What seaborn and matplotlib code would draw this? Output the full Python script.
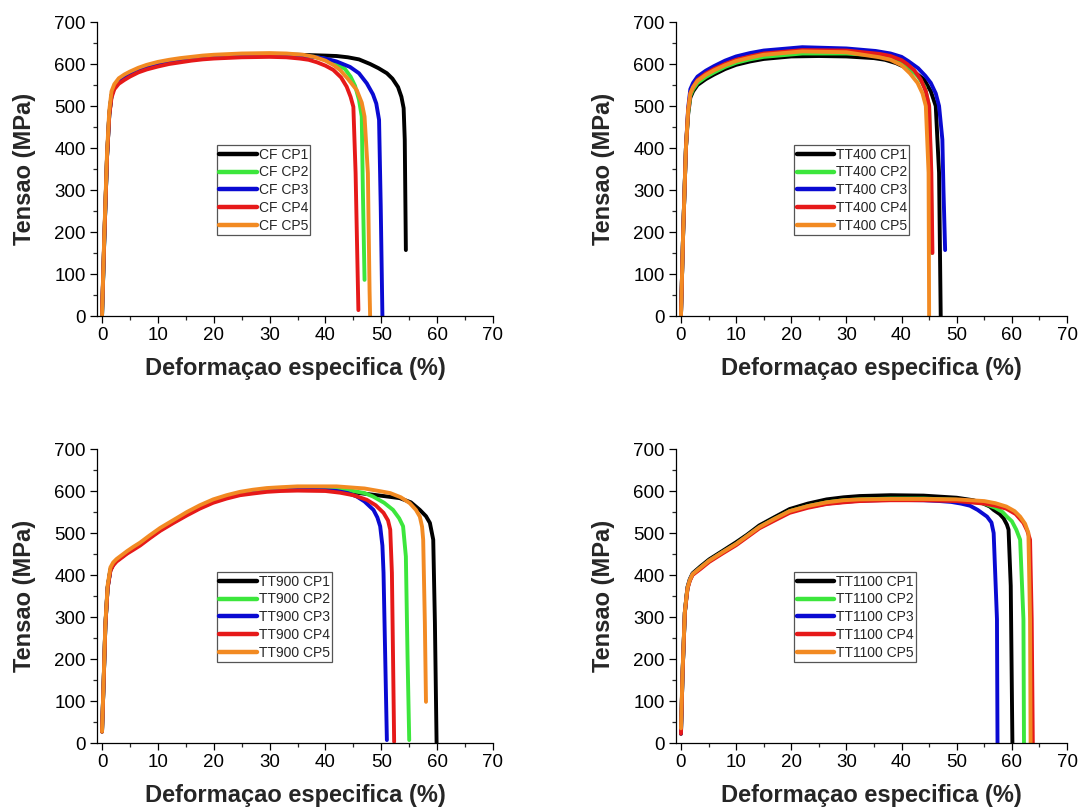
import numpy as np
import pandas as pd
import matplotlib
matplotlib.use("Agg")
import matplotlib.pyplot as plt
from matplotlib.ticker import MultipleLocator
import seaborn as sns

# Curvas tensao x deformacao

# CF
cf_cp1_x = [0, 0.4, 0.9, 1.3, 1.7, 2.2, 3, 4, 5, 6.5, 8, 10, 12, 14, 16, 18, 20, 25, 30, 35, 40, 42, 44, 46, 48, 49.5, 51, 52, 53, 53.6, 54.0, 54.2, 54.4]
cf_cp1_y = [0, 180, 380, 480, 525, 545, 558, 567, 575, 585, 592, 599, 605, 609, 613, 616, 618, 621, 622, 622, 620, 619, 616, 611, 600, 590, 578, 565, 545, 522, 495, 420, 157]
cf_cp2_x = [0, 0.4, 0.9, 1.3, 1.7, 2.2, 3, 4, 5, 6.5, 8, 10, 12, 14, 16, 18, 20, 25, 30, 35, 38, 40, 42, 43.5, 44.5, 45.3, 46.0, 46.5, 46.7, 47.0]
cf_cp2_y = [0, 180, 380, 480, 525, 545, 558, 567, 575, 585, 592, 599, 604, 608, 612, 615, 617, 620, 621, 620, 617, 612, 600, 588, 570, 548, 515, 475, 300, 86]
cf_cp3_x = [0, 0.4, 0.9, 1.3, 1.7, 2.2, 3, 4, 5, 6.5, 8, 10, 12, 14, 16, 18, 20, 25, 30, 35, 38, 40, 42, 44.4, 46, 47.4, 48.5, 49.1, 49.6, 49.9, 50.2]
cf_cp3_y = [0, 180, 380, 480, 525, 545, 557, 566, 574, 584, 591, 598, 604, 608, 612, 615, 617, 620, 621, 620, 617, 613, 606, 593, 578, 554, 528, 506, 467, 260, 0]
cf_cp4_x = [0, 0.4, 0.9, 1.3, 1.7, 2.2, 3, 4, 5, 6.5, 8, 10, 12, 14, 16, 18, 20, 25, 30, 33, 35.4, 37, 38.5, 40, 41.4, 42.8, 43.8, 44.5, 45.0, 45.4, 45.9]
cf_cp4_y = [10, 185, 380, 478, 520, 540, 553, 562, 570, 580, 587, 594, 600, 604, 608, 611, 613, 616, 617, 616, 613, 610, 604, 596, 586, 568, 546, 522, 498, 340, 14]
cf_cp5_x = [0, 0.4, 0.9, 1.3, 1.7, 2.2, 3, 4, 5, 6.5, 8, 10, 12, 14, 16, 18, 20, 25, 30, 33, 36, 38, 40, 41.5, 42.6, 44, 45.6, 46.5, 47.0, 47.6, 47.9, 48.0]
cf_cp5_y = [0, 190, 390, 490, 535, 552, 566, 575, 582, 591, 598, 605, 610, 614, 617, 620, 622, 625, 626, 625, 622, 617, 608, 597, 586, 565, 538, 508, 475, 340, 60, 0]

# TT400
tt400_cp1_x = [0, 0.4, 0.9, 1.3, 1.7, 2.2, 3, 4.5, 6, 8, 10, 12.5, 15, 20, 25, 30, 35, 37, 39, 41, 42.7, 44.1, 45.3, 46.2, 46.8, 47.1]
tt400_cp1_y = [0, 200, 400, 480, 520, 535, 550, 564, 575, 588, 598, 606, 612, 618, 619, 618, 614, 610, 602, 590, 577, 563, 535, 500, 341, 0]
tt400_cp2_x = [0, 0.4, 0.9, 1.3, 1.7, 2.2, 3, 4.5, 6, 8, 10, 12.5, 15, 22, 30, 35, 38, 40, 41.5, 43, 44.2, 45.0, 45.3, 45.5]
tt400_cp2_y = [0, 200, 400, 485, 525, 540, 555, 569, 580, 593, 603, 611, 617, 625, 625, 621, 615, 604, 590, 570, 545, 500, 350, 150]
tt400_cp3_x = [0, 0.4, 0.9, 1.3, 1.7, 2.2, 3, 4.5, 6, 8, 10, 12.5, 15, 22, 30, 35.3, 38, 40, 41.2, 43, 44.3, 45.3, 46.2, 46.8, 47.4, 47.6, 47.9]
tt400_cp3_y = [0, 200, 400, 495, 540, 555, 570, 584, 595, 608, 618, 626, 632, 640, 637, 631, 625, 617, 607, 590, 572, 555, 530, 500, 420, 300, 157]
tt400_cp4_x = [0, 0.4, 0.9, 1.3, 1.7, 2.2, 3, 4.5, 6, 8, 10, 12.5, 15, 22, 30, 36, 38, 40, 41, 42.3, 43.5, 44.4, 45.0, 45.4, 45.6]
tt400_cp4_y = [0, 200, 400, 490, 530, 545, 562, 577, 588, 600, 610, 618, 625, 633, 632, 624, 619, 609, 600, 585, 563, 535, 500, 341, 150]
tt400_cp5_x = [0, 0.4, 0.9, 1.3, 1.7, 2.2, 3, 4.5, 6, 8, 10, 12.5, 15, 22, 30, 36, 38, 40, 41.5, 42.9, 43.8, 44.4, 44.9, 45.0]
tt400_cp5_y = [0, 200, 400, 490, 530, 545, 560, 574, 585, 597, 607, 615, 622, 630, 628, 616, 610, 597, 578, 555, 530, 500, 341, 0]

# TT900
tt900_cp1_x = [0, 0.3, 0.6, 1.0, 1.5, 2.0, 2.6, 3.5, 4.5, 5.6, 6.8, 8.5, 10.4, 12.8, 15.2, 17.5, 19.9, 22.3, 24.7, 27, 29.5, 32, 35, 40, 42.6, 45.5, 48.6, 51, 53.3, 55.3, 56.9, 58, 58.7, 59.3, 59.6, 59.9]
tt900_cp1_y = [27, 150, 280, 370, 412, 425, 434, 443, 453, 463, 473, 490, 508, 527, 545, 561, 575, 585, 593, 598, 602, 604, 605, 603, 600, 596, 591, 587, 583, 573, 555, 540, 524, 484, 286, 0]
tt900_cp2_x = [0, 0.3, 0.6, 1.0, 1.5, 2.0, 2.6, 3.5, 4.5, 5.6, 6.8, 8.5, 10.4, 12.8, 15.2, 17.5, 19.9, 22.3, 24.7, 27, 29.5, 32, 35, 42, 45, 47, 48.5, 50.5, 52.1, 53.2, 53.9, 54.4, 54.7, 55.0]
tt900_cp2_y = [27, 150, 280, 370, 413, 426, 435, 444, 454, 464, 474, 491, 509, 528, 546, 562, 576, 586, 594, 599, 603, 605, 606, 604, 600, 595, 587, 572, 555, 535, 516, 444, 206, 7]
tt900_cp3_x = [0, 0.3, 0.6, 1.0, 1.5, 2.0, 2.6, 3.5, 4.5, 5.6, 6.8, 8.5, 10.4, 12.8, 15.2, 17.5, 19.9, 22.3, 24.7, 27, 29.5, 32, 35, 40, 42, 44, 45.6, 47, 48.6, 49.3, 49.8, 50.2, 50.4, 50.7, 51.0]
tt900_cp3_y = [27, 150, 280, 370, 412, 425, 434, 443, 453, 463, 473, 489, 507, 526, 544, 560, 574, 584, 592, 596, 600, 602, 603, 602, 600, 595, 587, 575, 555, 537, 516, 470, 405, 206, 7]
tt900_cp4_x = [0, 0.3, 0.6, 1.0, 1.5, 2.0, 2.6, 3.5, 4.5, 5.6, 6.8, 8.5, 10.4, 12.8, 15.2, 17.5, 19.9, 22.3, 24.7, 27, 29.5, 32, 35, 40, 42.6, 45, 47.4, 49, 50.4, 51.2, 51.6, 51.9, 52.1, 52.3]
tt900_cp4_y = [27, 150, 280, 368, 410, 423, 432, 441, 451, 460, 470, 487, 505, 524, 542, 558, 572, 582, 590, 594, 598, 600, 601, 600, 596, 590, 579, 566, 548, 530, 508, 405, 206, 3]
tt900_cp5_x = [0, 0.3, 0.6, 1.0, 1.5, 2.0, 2.6, 3.5, 4.5, 5.6, 6.8, 8.5, 10.4, 12.8, 15.2, 17.5, 19.9, 22.3, 24.7, 27, 29.5, 32, 35, 42, 47, 50, 51.6, 53.5, 55.1, 56.2, 56.9, 57.3, 57.5, 57.8, 58.0]
tt900_cp5_y = [27, 155, 285, 375, 418, 430, 438, 447, 457, 467, 477, 494, 512, 531, 550, 566, 580, 590, 598, 603, 607, 609, 611, 611, 606, 599, 595, 585, 571, 555, 539, 515, 484, 286, 98]

# TT1100
tt1100_cp1_x = [0, 0.3, 0.7, 1.0, 1.2, 1.6, 2.1, 3.5, 5.1, 7.5, 10.0, 12, 14.2, 17, 19.7, 23, 26.4, 29.5, 32.4, 38, 44, 50, 53, 54.5, 56, 56.7, 57.8, 58.5, 59.1, 59.4, 59.8, 60.1]
tt1100_cp1_y = [22, 170, 310, 350, 372, 390, 404, 420, 437, 457, 478, 496, 518, 538, 557, 570, 580, 585, 588, 590, 589, 584, 578, 572, 563, 555, 545, 535, 520, 508, 374, 0]
tt1100_cp2_x = [0, 0.3, 0.7, 1.0, 1.2, 1.6, 2.1, 3.5, 5.1, 7.5, 10.0, 12, 14.2, 17, 19.7, 23, 26.4, 29.5, 32.4, 38, 44, 50, 55, 57, 58.3, 59.1, 60.0, 60.8, 61.5, 62.1, 62.2]
tt1100_cp2_y = [22, 170, 310, 348, 370, 388, 402, 417, 434, 454, 474, 493, 514, 534, 552, 564, 573, 578, 580, 582, 582, 579, 570, 560, 550, 539, 528, 508, 484, 295, 0]
tt1100_cp3_x = [0, 0.3, 0.7, 1.0, 1.2, 1.6, 2.1, 3.5, 5.1, 7.5, 10.0, 12, 14.2, 17, 19.7, 23, 26.4, 29.5, 32.4, 38, 44, 47, 49, 50.8, 52.4, 53.8, 55.5, 56.3, 56.7, 57.3, 57.4]
tt1100_cp3_y = [22, 170, 310, 348, 370, 388, 402, 416, 433, 453, 473, 492, 513, 532, 550, 562, 570, 574, 577, 579, 578, 576, 574, 570, 565, 555, 539, 525, 500, 295, 0]
tt1100_cp4_x = [0, 0.3, 0.7, 1.0, 1.2, 1.6, 2.1, 3.5, 5.1, 7.5, 10.0, 12, 14.2, 17, 19.7, 23, 26.4, 29.5, 32.4, 38, 44, 50, 55, 57, 59, 60.7, 62.1, 62.8, 63.3, 63.6, 63.8]
tt1100_cp4_y = [22, 170, 310, 346, 368, 386, 400, 414, 431, 451, 471, 490, 511, 530, 548, 560, 569, 573, 576, 578, 578, 576, 570, 565, 558, 545, 524, 505, 484, 295, 0]
tt1100_cp5_x = [0, 0.3, 0.7, 1.0, 1.2, 1.6, 2.1, 3.5, 5.1, 7.5, 10.0, 12, 14.2, 17, 19.7, 23, 26.4, 29.5, 32.4, 38, 44, 50, 55, 57, 59, 60.5, 61.5, 62.4, 63.0, 63.3, 63.4]
tt1100_cp5_y = [35, 175, 312, 349, 370, 388, 402, 417, 434, 454, 474, 493, 514, 534, 552, 564, 573, 578, 580, 581, 581, 580, 576, 571, 563, 552, 539, 522, 500, 295, 0]

cores = ['#000000', '#3ce63c', '#0a0ad2', '#e61919', '#f28a22']
cp_nomes = ['CP1', 'CP2', 'CP3', 'CP4', 'CP5']

paineis = [
    ('CF', [(cf_cp1_x, cf_cp1_y), (cf_cp2_x, cf_cp2_y), (cf_cp3_x, cf_cp3_y),
            (cf_cp4_x, cf_cp4_y), (cf_cp5_x, cf_cp5_y)]),
    ('TT400', [(tt400_cp1_x, tt400_cp1_y), (tt400_cp2_x, tt400_cp2_y), (tt400_cp3_x, tt400_cp3_y),
               (tt400_cp4_x, tt400_cp4_y), (tt400_cp5_x, tt400_cp5_y)]),
    ('TT900', [(tt900_cp1_x, tt900_cp1_y), (tt900_cp2_x, tt900_cp2_y), (tt900_cp3_x, tt900_cp3_y),
               (tt900_cp4_x, tt900_cp4_y), (tt900_cp5_x, tt900_cp5_y)]),
    ('TT1100', [(tt1100_cp1_x, tt1100_cp1_y), (tt1100_cp2_x, tt1100_cp2_y), (tt1100_cp3_x, tt1100_cp3_y),
                (tt1100_cp4_x, tt1100_cp4_y), (tt1100_cp5_x, tt1100_cp5_y)]),
]

sns.set_style("ticks")
plt.rcParams['font.family'] = ['Liberation Sans', 'DejaVu Sans']

W, H = 1091, 810
fig = plt.figure(figsize=(W / 100, H / 100), dpi=100)

# posicoes dos eixos em pixels: esquerda, topo, direita, base
caixas = [(97, 22, 493, 316), (676, 22, 1067, 316),
          (97, 449, 493, 743), (676, 449, 1067, 743)]

for (nome, curvas), (x0, y0, x1, y1) in zip(paineis, caixas):
    ax = fig.add_axes([x0 / W, 1 - y1 / H, (x1 - x0) / W, (y1 - y0) / H])

    linhas = []
    for cp, (xs, ys) in zip(cp_nomes, curvas):
        linhas.append(pd.DataFrame({'def': xs, 'tensao': ys, 'amostra': nome + ' ' + cp}))
    df = pd.concat(linhas, ignore_index=True)
    ordem = [nome + ' ' + cp for cp in cp_nomes]

    sns.lineplot(data=df, x='def', y='tensao', hue='amostra', hue_order=ordem,
                 palette=cores, sort=False, estimator=None, linewidth=2.8, ax=ax)
    for ln in ax.get_lines():
        ln.set_solid_joinstyle('round')
        ln.set_solid_capstyle('round')

    leg = ax.get_legend()
    handles = leg.legend_handles
    labels = [t.get_text() for t in leg.get_texts()]
    leg.remove()
    novo = ax.legend(handles, labels, loc='upper left', bbox_to_anchor=(0.303, 0.58),
                     fontsize=10, frameon=True, fancybox=False, framealpha=1,
                     edgecolor='#555555', handlelength=2.7, handletextpad=0.15,
                     labelspacing=0.28, borderpad=0.15, borderaxespad=0)
    novo.get_frame().set_linewidth(0.9)
    for h, c in zip(novo.legend_handles, cores):
        h.set_linewidth(3.2)
        h.set_color(c)

    ax.set_xlim(-0.9, 70)
    ax.set_ylim(0, 700)
    ax.xaxis.set_major_locator(MultipleLocator(10))
    ax.xaxis.set_minor_locator(MultipleLocator(5))
    ax.yaxis.set_major_locator(MultipleLocator(100))
    ax.yaxis.set_minor_locator(MultipleLocator(50))
    ax.tick_params(which='major', direction='out', length=5, width=0.9, labelsize=13.5, pad=3, colors='black')
    ax.tick_params(which='minor', direction='out', length=3, width=0.9)

    sns.despine(ax=ax)
    for s in ['left', 'bottom']:
        ax.spines[s].set_linewidth(0.9)
        ax.spines[s].set_color('black')

    ax.set_xlabel('Deformaçao especifica (%)', fontsize=17, fontweight='bold', labelpad=9)
    ax.set_ylabel('Tensao (MPa)', fontsize=17, fontweight='bold', labelpad=13)

fig.savefig('out.png', dpi=100)
